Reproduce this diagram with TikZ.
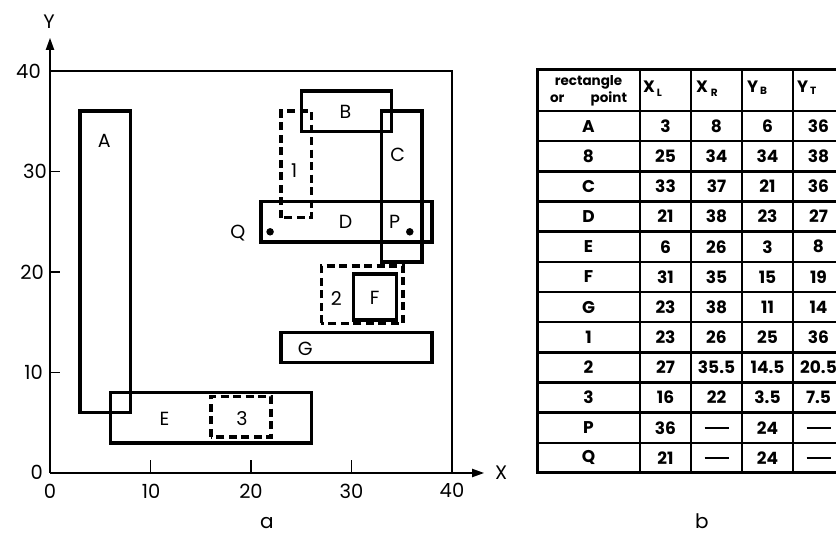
\documentclass[tikz,border=0pt]{standalone}
\usepackage{fontspec}
\setmainfont{Poppins}
\usetikzlibrary{arrows.meta}
\newcommand\tdash{\rule{24pt}{1.8pt}}
\begin{document}
\begin{tikzpicture}[x=1pt,y=-1pt,
  rectline/.style={line width=3.5pt},
  dashrect/.style={line width=3.5pt, dash pattern=on 8pt off 4.5pt},
  axisline/.style={line width=1.9pt},
  axisarrow/.style={axisline, -{Triangle[length=12pt,width=8pt]}},
  lbl/.style={font=\fontsize{19}{19}\selectfont, inner sep=0pt},
  ticklbl/.style={font=\fontsize{19.5}{19.5}\selectfont, inner sep=0pt},
  cell/.style={font=\bfseries\fontsize{17}{17}\selectfont, inner sep=0pt},
  hdr/.style={font=\bfseries\fontsize{16.5}{16.5}\selectfont, inner sep=0pt, anchor=base west},
  sub/.style={font=\bfseries\fontsize{10.5}{10.5}\selectfont, inner sep=0pt, anchor=base west},
  dot/.style={circle, fill=black, inner sep=0pt, minimum size=7.5pt},
  tabouter/.style={line width=3pt},
  tabinner/.style={line width=2.5pt}]
\useasboundingbox (0,0) rectangle (836,534);

% ---------------- plot (a) ----------------
\begin{scope}[shift={(50,473)}, x=10.05pt, y=10.05pt]
  \coordinate (O) at (0,0);
  \coordinate (Xend) at (43.2,0);
  \coordinate (Yend) at (0,43.3);
  \coordinate (TL) at (0,40);
  \coordinate (TR) at (40,40);
  \coordinate (BR) at (40,0);
  \draw[axisline] (TL) -- (TR) -- (BR);
  \draw[axisarrow] (O) -- (Yend);
  \draw[axisarrow] (O) -- (Xend);
  \foreach \t in {10,20,30} {
    \draw[axisline] (\t,0) -- (\t,1.25);
    \draw[axisline] (0,\t) -- (1.0,\t);
  }
  \node[ticklbl] (x0) at (0,-1.85) {0};
  \node[ticklbl] (x10) at (10.05,-1.85) {10};
  \node[ticklbl] (x20) at (20,-1.85) {20};
  \node[ticklbl] (x30) at (30,-1.85) {30};
  \node[ticklbl] (x40) at (40,-1.75) {40};
  \node[ticklbl, anchor=east] (y0) at (-0.7,0.1) {0};
  \node[ticklbl, anchor=east] (y10) at (-0.7,10) {10};
  \node[ticklbl, anchor=east] (y20) at (-0.6,20) {20};
  \node[ticklbl, anchor=east] (y30) at (-0.3,30) {30};
  \node[ticklbl, anchor=east] (y40) at (-0.9,40) {40};
  \node[ticklbl] (ylab) at (-0.1,44.9) {Y};
  \node[ticklbl] (xlab) at (44.9,0) {X};

  % rectangles
  \draw[rectline] (3,6) rectangle (8,36);
  \draw[rectline] (25,34) rectangle (34,38);
  \draw[rectline] (33,21) rectangle (37,36);
  \draw[rectline] (21,23) rectangle (38,27);
  \draw[rectline] (6,3) rectangle (26,8);
  \draw[rectline] (30.2,15.2) rectangle (34.5,19.8);
  \draw[rectline] (23,11) rectangle (38,14);
  \draw[dashrect] (23,25.4) rectangle (26,36);
  \draw[dashrect] (27,14.9) rectangle (35.1,20.6);
  \draw[dashrect] (16,3.6) rectangle (22,7.6);

  % labels
  \node[lbl] (lA) at (5.4,33) {A};
  \node[lbl] (lB) at (29.4,35.9) {B};
  \node[lbl] (lC) at (34.6,31.7) {C};
  \node[lbl] (lD) at (29.4,25) {D};
  \node[lbl] (lP) at (34.3,25) {P};
  \node[lbl] (lQ) at (18.7,23.9) {Q};
  \node[lbl] (l1) at (24.3,30.1) {1};
  \node[lbl] (l2) at (28.5,17.4) {2};
  \node[lbl] (lF) at (32.3,17.4) {F};
  \node[lbl] (lE) at (11.4,5.4) {E};
  \node[lbl] (l3) at (19.1,5.4) {3};
  \node[lbl] (lG) at (25.4,12.4) {G};
  \node[dot] (Pdot) at (35.8,24) {};
  \node[dot] (Qdot) at (21.9,24) {};
\end{scope}

\node[font=\fontsize{20}{20}\selectfont, inner sep=0pt] (capA) at (267,523) {a};
\node[font=\fontsize{20}{20}\selectfont, inner sep=0pt] (capB) at (702,521) {b};

% ---------------- table (b) ----------------
\def\rowh{30.17}
\foreach \k in {0,...,11} {
  \draw[tabinner] (537,{111+\k*\rowh}) -- (844,{111+\k*\rowh});
}
\foreach \cx in {640,691,742,793} {
  \draw[tabinner] (\cx,70) -- (\cx,473);
}
\draw[tabouter] (537,70) rectangle (844,473);

\node[font=\bfseries\fontsize{13.5}{13.5}\selectfont, inner sep=0pt] (h1) at (588.5,82) {rectangle};
\node[font=\bfseries\fontsize{13.5}{13.5}\selectfont, inner sep=0pt] (h2) at (588.5,99) {\makebox[77pt][s]{or point}};

\node[hdr] (hXL) at (643,93) {X};
\node[sub] (hXLs) at (hXL.base east) [xshift=1.5pt, yshift=-3.5pt] {L};
\node[hdr] (hXR) at (696,93) {X};
\node[sub] (hXRs) at (hXR.base east) [xshift=2.5pt, yshift=-3.5pt] {R};
\node[hdr] (hYB) at (747,93) {Y};
\node[sub] (hYBs) at (hYB.base east) [xshift=1.5pt, yshift=-2pt] {B};
\node[hdr] (hYT) at (797,93) {Y};
\node[sub] (hYTs) at (hYT.base east) [xshift=1.5pt, yshift=-2pt] {T};

\foreach \n/\a/\b/\c/\d [count=\i] in {
  A/3/8/6/36, 8/25/34/34/38, C/33/37/21/36, D/21/38/23/27,
  E/6/26/3/8, F/31/35/15/19, G/23/38/11/14, 1/23/26/25/36,
  2/27/35.5/14.5/20.5, 3/16/22/3.5/7.5, P/36/\tdash/24/\tdash, Q/21/\tdash/24/\tdash} {
  \pgfmathsetmacro{\cy}{111+(\i-0.5)*\rowh}
  \node[cell] (c\i-0) at (588.5,\cy) {\n};
  \node[cell] (c\i-1) at (665.5,\cy) {\a};
  \node[cell] (c\i-2) at (716.5,\cy) {\b};
  \node[cell] (c\i-3) at (767.5,\cy) {\c};
  \node[cell] (c\i-4) at (818.5,\cy) {\d};
}
\end{tikzpicture}
\end{document}
